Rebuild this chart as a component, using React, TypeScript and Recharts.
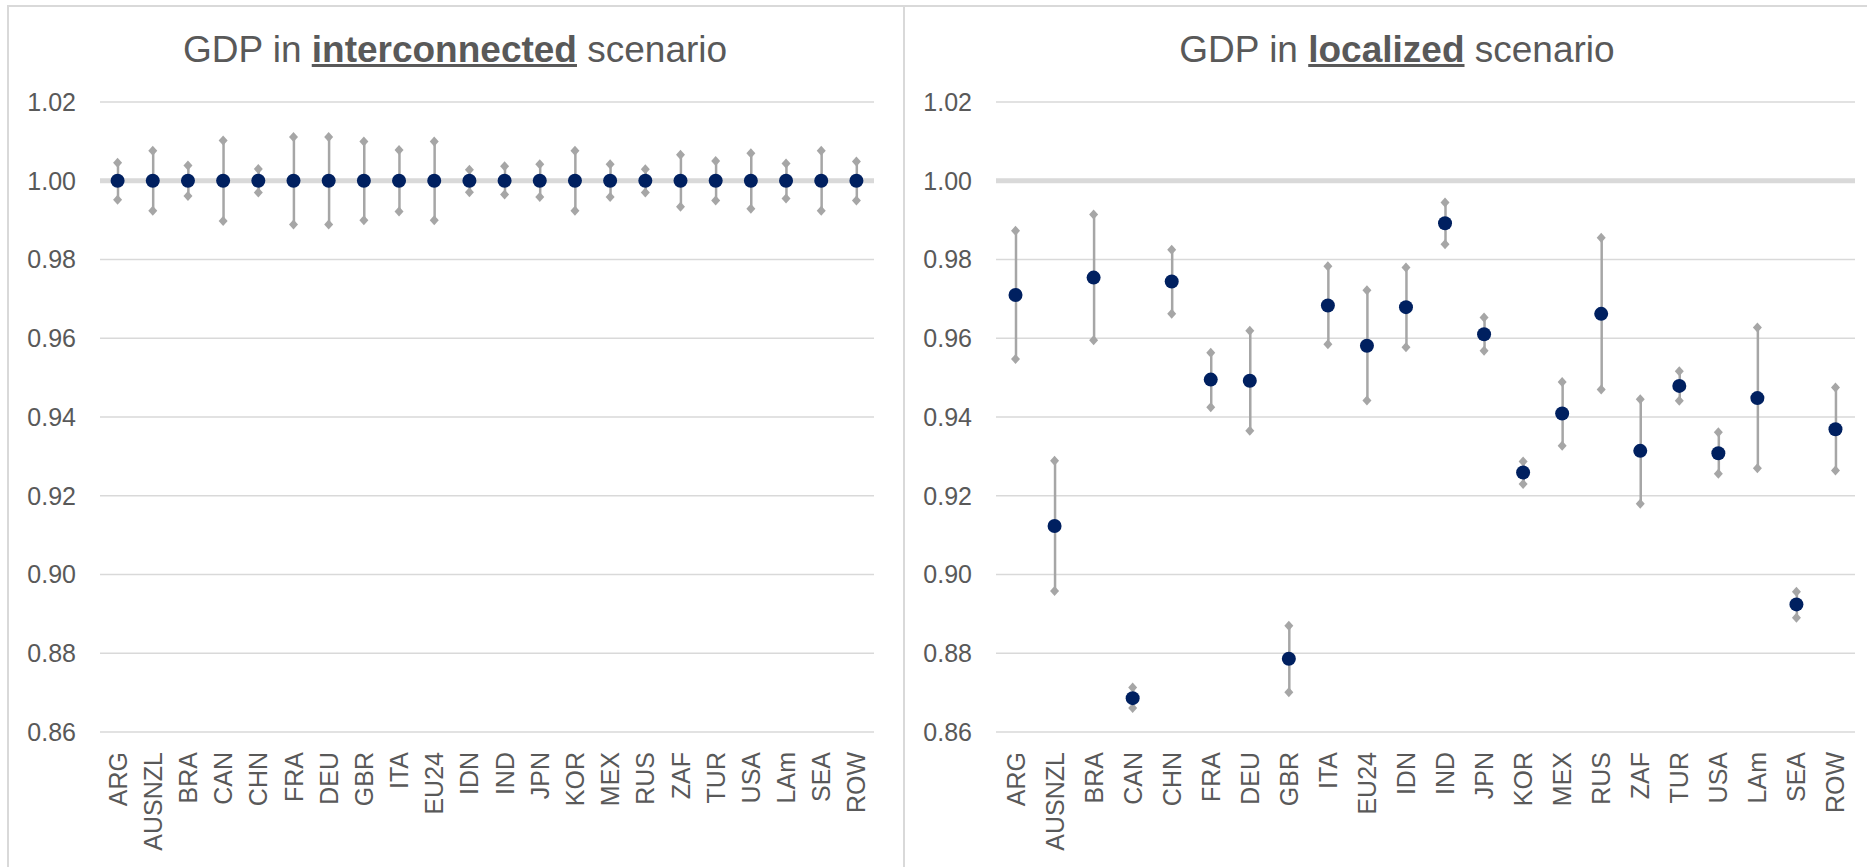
import React from 'react';
import {
  ComposedChart, Bar, Line, XAxis, YAxis, CartesianGrid, ReferenceLine,
} from 'recharts';

const REGIONS = [
  'ARG', 'AUSNZL', 'BRA', 'CAN', 'CHN', 'FRA', 'DEU', 'GBR', 'ITA', 'EU24', 'IDN',
  'IND', 'JPN', 'KOR', 'MEX', 'RUS', 'ZAF', 'TUR', 'USA', 'LAm', 'SEA', 'ROW',
];

// interconnected scenario
const INTER_MID = [
  1.0, 1.0, 1.0, 1.0, 1.0, 1.0, 1.0, 1.0, 1.0, 1.0, 1.0,
  1.0, 1.0, 1.0, 1.0, 1.0, 1.0, 1.0, 1.0, 1.0, 1.0, 1.0,
];
const INTER_LOW = [
  0.9952, 0.9924, 0.9961, 0.9898, 0.997, 0.9889, 0.9889, 0.99, 0.9922, 0.99, 0.9971,
  0.9965, 0.9959, 0.9924, 0.9959, 0.997, 0.9934, 0.995, 0.9929, 0.9955, 0.9924, 0.995,
];
const INTER_HIGH = [
  1.0046, 1.0076, 1.0039, 1.0102, 1.003, 1.0111, 1.0111, 1.01, 1.0078, 1.01, 1.0028,
  1.0037, 1.0042, 1.0076, 1.0042, 1.0029, 1.0066, 1.005, 1.007, 1.0044, 1.0076, 1.0049,
];

// localized scenario
const LOC_MID = [
  0.971, 0.9123, 0.9754, 0.8686, 0.9744, 0.9495, 0.9492, 0.8786, 0.9683, 0.9581, 0.9679,
  0.9892, 0.961, 0.9259, 0.9409, 0.9662, 0.9314, 0.9479, 0.9308, 0.9448, 0.8924, 0.9369,
];
const LOC_LOW = [
  0.9547, 0.8958, 0.9595, 0.8661, 0.9662, 0.9425, 0.9365, 0.8701, 0.9585, 0.9442, 0.9577,
  0.9839, 0.9568, 0.923, 0.9327, 0.947, 0.918, 0.9441, 0.9256, 0.927, 0.889, 0.9264,
];
const LOC_HIGH = [
  0.9873, 0.9289, 0.9914, 0.8713, 0.9825, 0.9563, 0.9619, 0.887, 0.9783, 0.9722, 0.978,
  0.9945, 0.9653, 0.9287, 0.9489, 0.9855, 0.9445, 0.9516, 0.9361, 0.9627, 0.8956, 0.9475,
];

const Y_TICKS = [0.86, 0.88, 0.9, 0.92, 0.94, 0.96, 0.98, 1.0, 1.02];

const FONT = '"Liberation Sans", Arial, sans-serif';
const TEXT = '#595959';
const GRID = '#d9d9d9';
const WHISKER = '#a6a6a6';
const NAVY = '#002060';

function buildRows(mid: number[], low: number[], high: number[]) {
  return REGIONS.map((name, i) => ({ name, mid: mid[i], low: low[i], high: high[i] }));
}

function Whisker(props: any) {
  const { x, y, width, height } = props;
  if (x == null || y == null) return null;
  const cx = x + width / 2;
  return <line x1={cx} x2={cx} y1={y} y2={y + height} stroke={WHISKER} strokeWidth={2.5} />;
}

function Diamond(props: any) {
  const { cx, cy, index } = props;
  if (cx == null || cy == null) return null;
  return (
    <polygon
      key={`d-${index}`}
      points={`${cx},${cy - 5} ${cx + 4.5},${cy} ${cx},${cy + 5} ${cx - 4.5},${cy}`}
      fill={WHISKER}
    />
  );
}

function Dot(props: any) {
  const { cx, cy, index } = props;
  if (cx == null || cy == null) return null;
  return <circle key={`c-${index}`} cx={cx} cy={cy} r={7} fill={NAVY} />;
}

function RegionTick(props: any) {
  const { x, y, payload } = props;
  return (
    <text
      x={x}
      y={y}
      transform={`rotate(-90 ${x} ${y})`}
      textAnchor="end"
      dominantBaseline="central"
      fontSize={25}
      fill={TEXT}
      fontFamily={FONT}
    >
      {payload.value}
    </text>
  );
}

function Panel({
  rows, width, marginRight,
}: {
  rows: ReturnType<typeof buildRows>;
  width: number;
  marginRight: number;
}) {
  return (
    <ComposedChart
      width={width}
      height={862}
      data={rows}
      margin={{ top: 97, right: marginRight, bottom: 15, left: 0 }}
      style={{ fontFamily: FONT }}
    >
      <CartesianGrid vertical={false} stroke={GRID} strokeWidth={1.5} />
      <ReferenceLine y={1} stroke={GRID} strokeWidth={5} />
      <XAxis
        dataKey="name"
        interval={0}
        axisLine={false}
        tickLine={false}
        tickSize={0}
        tickMargin={20}
        height={120}
        tick={<RegionTick />}
      />
      <YAxis
        domain={[0.86, 1.02]}
        ticks={Y_TICKS}
        width={92}
        axisLine={false}
        tickLine={false}
        tickSize={0}
        tickMargin={24}
        tickFormatter={(v: number) => v.toFixed(2)}
        tick={{ fill: TEXT, fontSize: 25 }}
      />
      <Bar
        dataKey={(d: any) => [d.low, d.high]}
        barSize={2}
        shape={<Whisker />}
        isAnimationActive={false}
      />
      <Line dataKey="high" stroke="none" dot={Diamond} activeDot={false} isAnimationActive={false} />
      <Line dataKey="low" stroke="none" dot={Diamond} activeDot={false} isAnimationActive={false} />
      <Line dataKey="mid" stroke="none" dot={Dot} activeDot={false} isAnimationActive={false} />
    </ComposedChart>
  );
}

function Title({ word, center }: { word: string; center: number }) {
  return (
    <div
      style={{
        position: 'absolute',
        left: center - 400,
        width: 800,
        top: 28,
        height: 44,
        lineHeight: '44px',
        textAlign: 'center',
        fontSize: 37,
        color: TEXT,
        whiteSpace: 'nowrap',
      }}
    >
      GDP in{' '}
      <span style={{ fontWeight: 'bold', textDecoration: 'underline', textDecorationThickness: 3 }}>
        {word}
      </span>{' '}
      scenario
    </div>
  );
}

export default function App() {
  const inter = buildRows(INTER_MID, INTER_LOW, INTER_HIGH);
  const local = buildRows(LOC_MID, LOC_LOW, LOC_HIGH);

  return (
    <div
      style={{
        position: 'fixed',
        left: 0,
        top: 0,
        width: 1867,
        height: 867,
        background: '#fff',
        overflow: 'hidden',
        fontFamily: FONT,
      }}
    >
      {/* panel frames */}
      <div
        style={{
          position: 'absolute', left: 7, top: 5, width: 897, height: 900,
          borderLeft: `2px solid ${GRID}`, borderTop: `2px solid ${GRID}`, boxSizing: 'border-box',
        }}
      />
      <div
        style={{
          position: 'absolute', left: 903, top: 5, width: 1000, height: 900,
          borderLeft: `2px solid ${GRID}`, borderTop: `2px solid ${GRID}`, boxSizing: 'border-box',
        }}
      />

      <div style={{ position: 'absolute', left: 8, top: 5 }}>
        <Panel rows={inter} width={896} marginRight={30} />
      </div>
      <div style={{ position: 'absolute', left: 904, top: 5 }}>
        <Panel rows={local} width={963} marginRight={12} />
      </div>

      <Title word="interconnected" center={455} />
      <Title word="localized" center={1397} />
    </div>
  );
}
